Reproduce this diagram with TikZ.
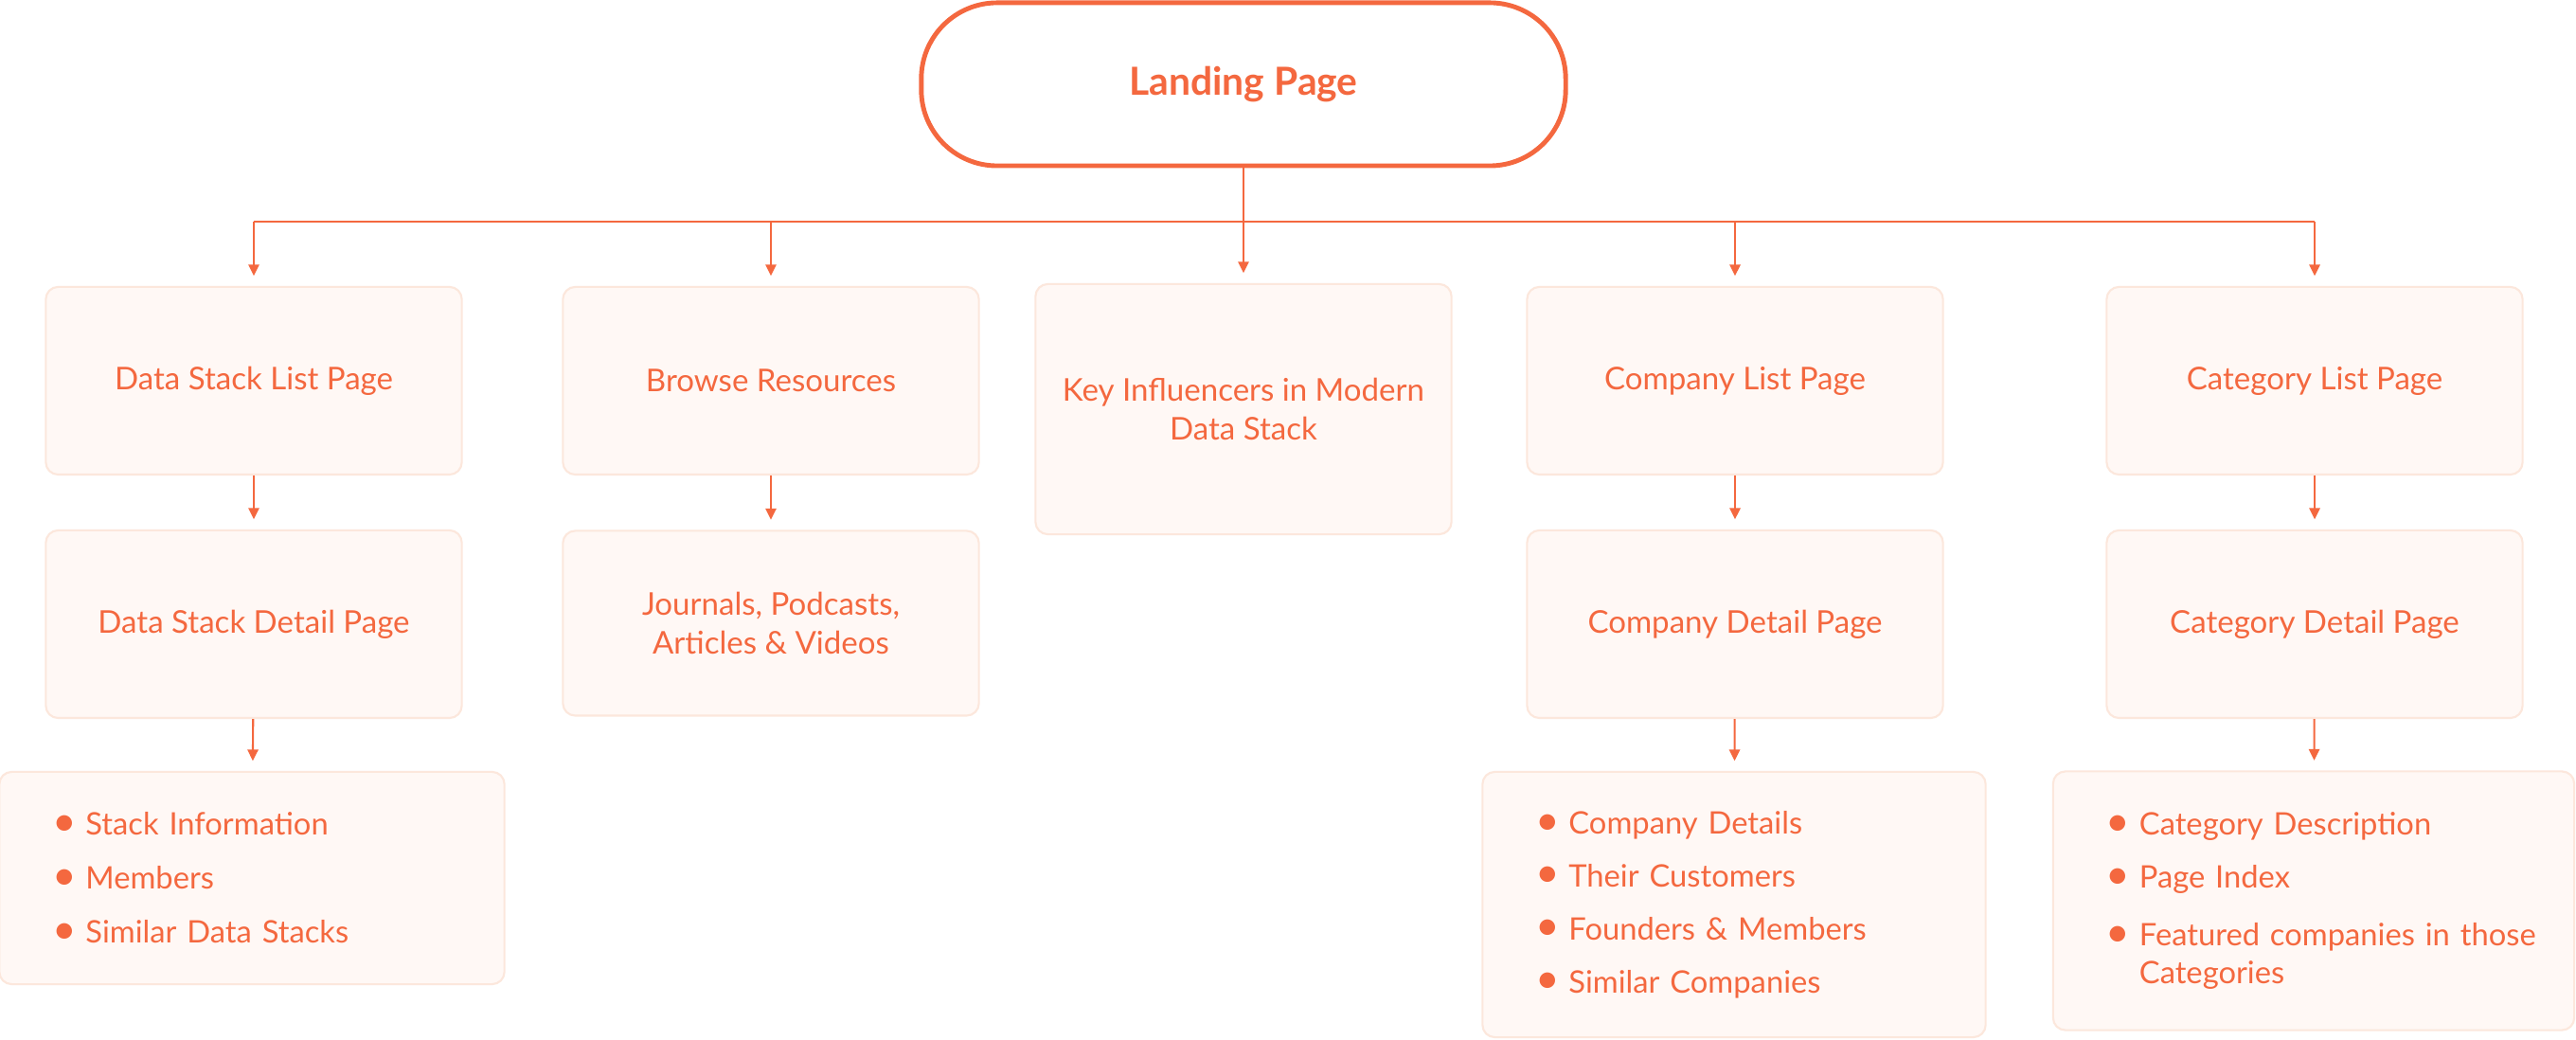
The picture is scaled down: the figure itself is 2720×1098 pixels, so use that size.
\documentclass[tikz,border=0pt]{standalone}
\usepackage{fontspec}
\usepackage{graphicx}
\setmainfont{Lato}
\usetikzlibrary{arrows.meta}
\definecolor{brandorange}{HTML}{F4683F}
\definecolor{cardfill}{HTML}{FFF8F5}
\definecolor{cardline}{HTML}{FCE7DC}
\newcommand{\bul}{\makebox[0.35cm][l]{\raisebox{-0.2pt}{\scalebox{1.35}{\textbullet}}}}
\newcommand{\bulgap}{\hspace*{0.35cm}}
\tikzset{
  page/.style={draw=cardline, line width=0.6pt, fill=cardfill, rounded corners=0.13cm,
    text=brandorange, align=center, inner sep=0pt,
    minimum width=4.39cm, minimum height=1.98cm,
    font=\fontsize{9.4}{11.4}\selectfont},
  bulletcard/.style={page, align=left, inner xsep=0.56cm,
    font=\fontsize{9.3}{11.8}\selectfont},
  wire/.style={draw=brandorange, line width=0.6pt},
  link/.style={wire, ->, shorten >=3pt},
}
\begin{document}
\begin{tikzpicture}[x=0.01cm,y=-0.01cm,>={Triangle[length=3.4pt,width=3.2pt]}]
\useasboundingbox (0,0) rectangle (2720,1098);
\fill[white] (0,0) rectangle (2720,1098);
%%
\node (landing) at (1313,89) [draw=brandorange, line width=1.4pt, fill=white, rounded corners=0.8cm,
  minimum width=6.8cm, minimum height=1.72cm, text=brandorange,
  font=\fontsize{11.6}{14}\selectfont\bfseries] {Landing Page};
%
\node (dslist) at (268,402) [page] {Data Stack List Page};
\node (browse) at (814,402) [page] {Browse Resources};
\node (keyinf) at (1313,432) [page, minimum height=2.64cm] {Key Influencers in Modern\\Data Stack};
\node (complist) at (1832,402) [page] {Company List Page};
\node (catlist) at (2444,402) [page] {Category List Page};
%
\node (dsdetail) at (268,659) [page] {Data Stack Detail Page};
\node (journals) at (814,658) [page, minimum height=1.95cm] {Journals, Podcasts,\\Articles \& Videos};
\node (compdetail) at (1832,659) [page] {Company Detail Page};
\node (catdetail) at (2444,659) [page] {Category Detail Page};
%
\node (dsinfo) at (266,927) [bulletcard, text width=4.21cm, minimum height=2.24cm]
  {\bul Stack Information\\[4.4pt] \bul Members\\[4.4pt] \bul Similar Data Stacks};
\node (compinfo) at (1831,955) [bulletcard, text width=4.19cm, minimum height=2.8cm]
  {\bul Company Details\\[4.1pt] \bul Their Customers\\[4.1pt] \bul Founders \& Members\\[4.1pt] \bul Similar Companies};
\node (catinfo) at (2443,951) [bulletcard, text width=4.38cm, minimum height=2.73cm]
  {\bul Category Description\\[4.1pt] \bul Page Index\\[5.6pt] \bul\mbox{Featured companies in those}\\[-0.6pt] \bulgap Categories};
%
\coordinate (bus) at (1313,234);
\draw [link] (landing.south) -- (keyinf.north);
\draw [wire] (bus -| dslist.north) -- (bus -| catlist.north);
\foreach \n in {dslist,browse,complist,catlist}
  \draw [link] (bus -| \n.north) -- (\n.north);
\draw [link] (dslist) -- (dsdetail);
\draw [link] (browse) -- (journals);
\draw [link] (complist) -- (compdetail);
\draw [link] (catlist) -- (catdetail);
\draw [link] (dsdetail) -- (dsinfo);
\draw [link] (compdetail) -- (compinfo);
\draw [link] (catdetail) -- (catinfo);
%
\end{tikzpicture}
\end{document}
